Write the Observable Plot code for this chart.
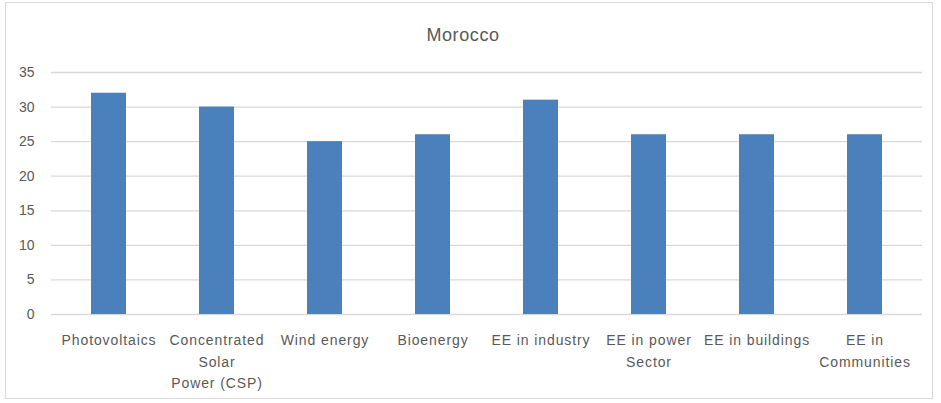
<!DOCTYPE html>
<html>
<head>
<meta charset="utf-8">
<script src="https://cdn.jsdelivr.net/npm/d3@7"></script>
<script src="https://cdn.jsdelivr.net/npm/@observablehq/plot@0.6"></script>
<style>
  html, body { margin: 0; padding: 0; background: #fff; }
  #chart { position: relative; width: 941px; height: 403px; overflow: hidden; }
  #frame { position: absolute; left: 5px; top: 2px; width: 928px; height: 397px; border: 1px solid #d9d9d9; box-sizing: border-box; }
  #title { position: absolute; left: 0; width: 926px; top: 25px; text-align: center; font-family: "Liberation Sans", Arial, sans-serif; font-size: 18px; letter-spacing: 0.6px; color: #595959; }
  #plot { position: absolute; left: 0; top: 0; }
  #plot svg g[aria-label="x-axis tick label"] text { letter-spacing: 0.9px; }
</style>
</head>
<body>
<div id="chart">
  <div id="frame"></div>
  <div id="title">Morocco</div>
  <div id="plot"></div>
</div>
<script>
const categories = ["Photovoltaics", "Concentrated Solar Power (CSP)", "Wind energy", "Bioenergy", "EE in industry", "EE in power Sector", "EE in buildings", "EE in Communities"];
const tickLabels = ["Photovoltaics", "Concentrated\nSolar\nPower (CSP)", "Wind energy", "Bioenergy", "EE in industry", "EE in power\nSector", "EE in buildings", "EE in\nCommunities"];
const values = [32, 30, 25, 26, 31, 26, 26, 26];
const yTicks = [0, 5, 10, 15, 20, 25, 30, 35];

const data = categories.map((c, i) => ({category: c, value: values[i]}));
const labelOf = new Map(categories.map((c, i) => [c, tickLabels[i]]));

const chart = Plot.plot({
  width: 941,
  height: 403,
  marginTop: 72,
  marginBottom: 89,
  marginLeft: 51,
  marginRight: 19,
  style: {fontFamily: "Liberation Sans, Arial, sans-serif", fontSize: "14px", color: "#595959", background: "transparent"},
  x: {domain: categories, paddingInner: 0.68, paddingOuter: 0.34, label: null},
  y: {domain: [0, 35], label: null},
  marks: [
    Plot.gridY(yTicks, {stroke: "#d9d9d9", strokeOpacity: 1, strokeWidth: 1.3}),
    Plot.barY(data, {x: "category", y: "value", fill: "#4a81bd"}),
    Plot.axisY({ticks: yTicks, tickSize: 0, tickPadding: 17, label: null, fill: "#595959"}),
    Plot.axisX({tickSize: 0, tickPadding: 15, tickFormat: d => labelOf.get(d), lineHeight: 1.55, label: null, fill: "#595959"})
  ]
});
document.getElementById("plot").appendChild(chart);
</script>
</body>
</html>
